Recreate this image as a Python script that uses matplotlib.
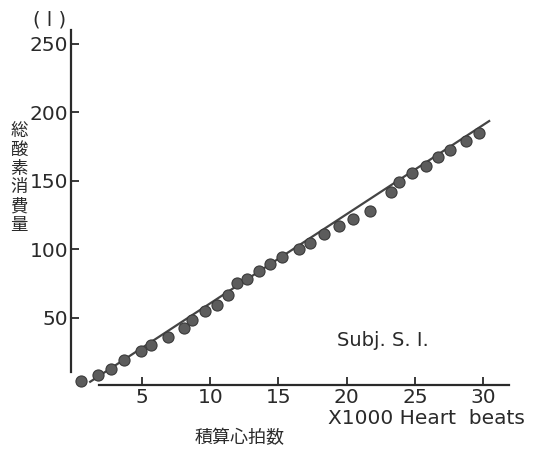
import matplotlib
matplotlib.use("Agg")
import matplotlib.pyplot as plt

# Data (x: x1000 heart beats, y: total O2 consumption in litres)
beats_k = [0.51, 1.80, 2.73, 3.66, 4.90, 5.68, 6.88, 8.09, 8.67, 9.60,
           10.48, 11.33, 11.94, 12.70, 13.58, 14.39, 15.27, 16.49, 17.35, 18.34,
           19.42, 20.45, 21.68, 23.29, 23.84, 24.79, 25.82, 26.72, 27.60, 28.75,
           29.74]
o2_total = [3.9, 8.0, 12.2, 18.8, 25.5, 29.9, 36.0, 42.1, 48.2, 55.0,
            58.9, 66.4, 75.4, 77.9, 84.2, 89.3, 94.4, 99.8, 104.4, 111.0,
            116.8, 121.7, 127.7, 141.6, 148.7, 155.5, 160.6, 167.2, 172.6, 178.8,
            184.5]
fit_x = [1.2, 30.45]
fit_y = [3.1, 193.4]

x_ticks = [5, 10, 15, 20, 25, 30]
y_ticks = [50, 100, 150, 200, 250]

fig = plt.figure(figsize=(5.42, 4.51), dpi=100)
ax = fig.add_axes([0.1110, 0.1289, 0.8557, 0.8202])
ax.set_xlim(-1, 33)
ax.set_ylim(-5, 265)

ink = "#2a2a2a"
ax.plot(fit_x, fit_y, color="#444444", lw=1.6, zorder=2)
ax.plot(beats_k, o2_total, "o", ms=8, color="#5c5c5c", mec="#3a3a3a", mew=0.8, zorder=3)

for s in ["top", "right"]:
    ax.spines[s].set_visible(False)
ax.spines["left"].set_position(("data", -0.2))
ax.spines["left"].set_bounds(10, 260)
ax.spines["bottom"].set_position(("data", 0.7))
ax.spines["bottom"].set_bounds(1.85, 31.9)
for s in ["left", "bottom"]:
    ax.spines[s].set_color(ink)
    ax.spines[s].set_linewidth(1.6)

ax.set_xticks(x_ticks)
ax.set_yticks(y_ticks)
ax.tick_params(axis="both", direction="in", length=6, width=1.3, color=ink,
               labelcolor=ink)
ax.tick_params(axis="x", pad=2, labelsize=14.5)
ax.tick_params(axis="y", pad=2, labelsize=14.5)
for lab in ax.get_xticklabels() + ax.get_yticklabels():
    lab.set_family("DejaVu Sans")

fig.text(50 / 542, 1 - 20 / 451, "( l )", ha="center", va="center",
         fontsize=14, color=ink, family="DejaVu Sans")
fig.text(19 / 542, 1 - 178 / 451, "\n".join("総酸素消費量"), ha="center", va="center",
         fontsize=12.5, color=ink, family=["Noto Sans CJK JP", "DejaVu Sans"],
         linespacing=1.05)
fig.text(426 / 542, 1 - 419 / 451, "X1000 Heart  beats", ha="center", va="center",
         fontsize=14.5, color=ink, family="DejaVu Sans")
fig.text(240 / 542, 1 - 438 / 451, "積算心拍数", ha="center", va="center",
         fontsize=13, color=ink, family=["Noto Sans CJK JP", "DejaVu Sans"])
fig.text(383 / 542, 1 - 340 / 451, "Subj. S. I.", ha="center", va="center",
         fontsize=14, color=ink, family="DejaVu Sans")

fig.savefig("out.png", dpi=100)
